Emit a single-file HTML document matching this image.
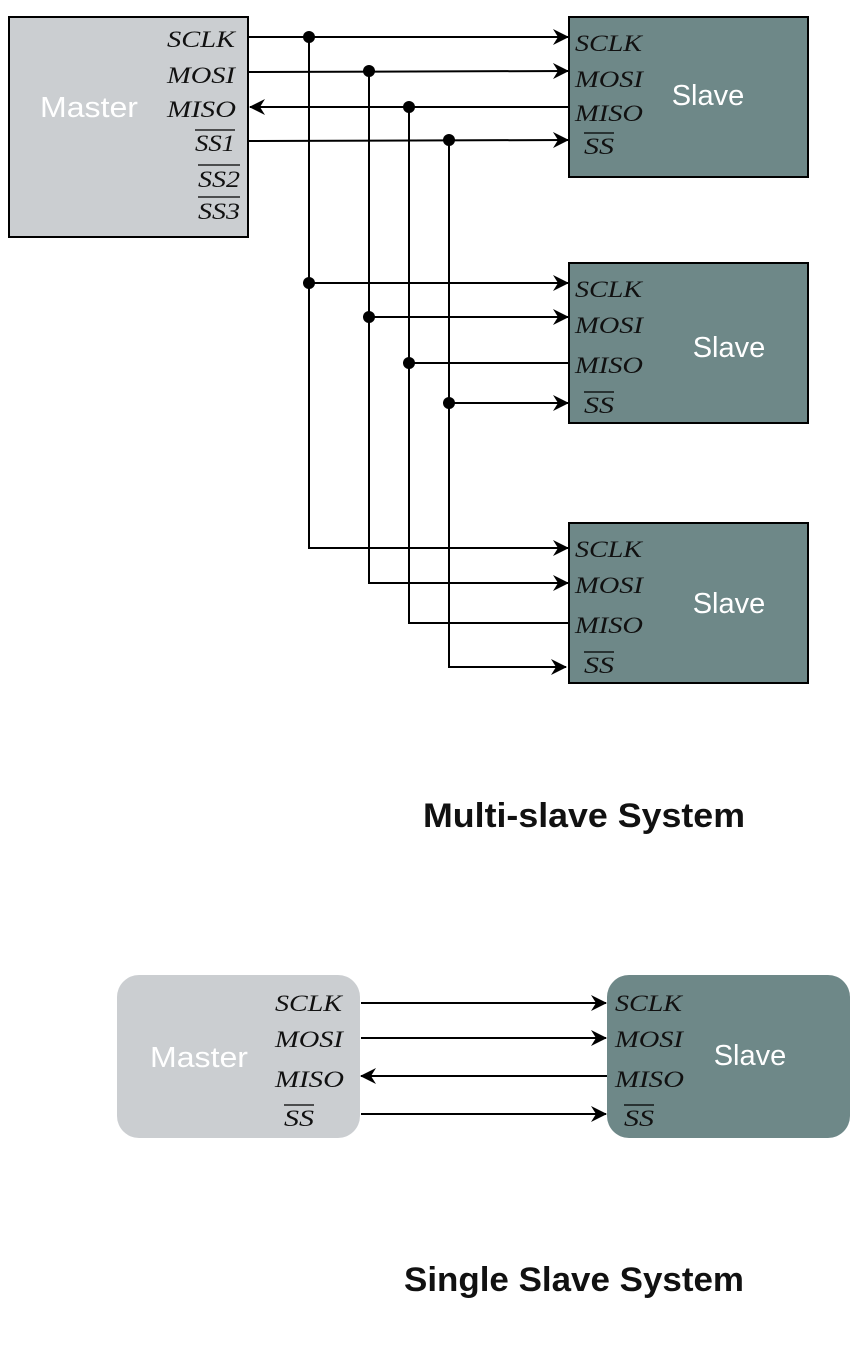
<!DOCTYPE html>
<html><head><style>
html,body{margin:0;padding:0;background:#fff;}
svg{display:block;}
.l{font-family:"Liberation Serif",serif;font-style:italic;font-size:23px;fill:#111;}
.w{font-family:"Liberation Sans",sans-serif;font-size:29px;fill:#fff;}
.t{font-family:"Liberation Sans",sans-serif;font-size:34px;font-weight:bold;fill:#111;}
</style></head><body>
<svg width="860" height="1360" viewBox="0 0 860 1360" xmlns="http://www.w3.org/2000/svg">
<defs>
<marker id="a" viewBox="0 0 16 16" refX="15" refY="8" markerWidth="16" markerHeight="16" markerUnits="userSpaceOnUse" orient="auto">
<path d="M0,0 L16,8 L0,16 L5,8 Z" fill="#000"/></marker>
</defs>
<rect x="9" y="17" width="239" height="220" fill="#cbced1" stroke="#000" stroke-width="2"/>
<rect x="569" y="17" width="239" height="160" fill="#6e8888" stroke="#000" stroke-width="2"/>
<rect x="569" y="263" width="239" height="160" fill="#6e8888" stroke="#000" stroke-width="2"/>
<rect x="569" y="523" width="239" height="160" fill="#6e8888" stroke="#000" stroke-width="2"/>
<g stroke="#000" stroke-width="2" fill="none">
<line x1="249" y1="37" x2="568" y2="37" marker-end="url(#a)"/>
<line x1="249" y1="72" x2="568" y2="71" marker-end="url(#a)"/>
<line x1="569" y1="107" x2="250" y2="107" marker-end="url(#a)"/>
<line x1="249" y1="141" x2="568" y2="140" marker-end="url(#a)"/>
<polyline points="309,37 309,548 568,548" marker-end="url(#a)"/>
<polyline points="369,71 369,583 568,583" marker-end="url(#a)"/>
<polyline points="409,107 409,623 569,623"/>
<polyline points="449,140 449,667 566,667" marker-end="url(#a)"/>
<line x1="309" y1="283" x2="568" y2="283" marker-end="url(#a)"/>
<line x1="369" y1="317" x2="568" y2="317" marker-end="url(#a)"/>
<line x1="409" y1="363" x2="569" y2="363"/>
<line x1="449" y1="403" x2="568" y2="403" marker-end="url(#a)"/>
</g>
<g fill="#000">
<circle cx="309" cy="37" r="6"/><circle cx="369" cy="71" r="6"/><circle cx="409" cy="107" r="6"/><circle cx="449" cy="140" r="6"/>
<circle cx="309" cy="283" r="6"/><circle cx="369" cy="317" r="6"/><circle cx="409" cy="363" r="6"/><circle cx="449" cy="403" r="6"/>
</g>
<g class="l">
<text x="167" y="47" textLength="68" lengthAdjust="spacingAndGlyphs">SCLK</text>
<text x="167" y="83" textLength="68" lengthAdjust="spacingAndGlyphs">MOSI</text>
<text x="167" y="117" textLength="69" lengthAdjust="spacingAndGlyphs">MISO</text>
<text x="195" y="151" textLength="40" lengthAdjust="spacingAndGlyphs">SS1</text>
<text x="198" y="187" textLength="42" lengthAdjust="spacingAndGlyphs">SS2</text>
<text x="198" y="219" textLength="42" lengthAdjust="spacingAndGlyphs">SS3</text>
</g>
<g stroke="#000" stroke-width="1.2">
<line x1="195" y1="130" x2="235" y2="130"/>
<line x1="198" y1="165" x2="240" y2="165"/>
<line x1="198" y1="197" x2="240" y2="197"/>
</g>
<text class="w" x="40" y="117" textLength="98" lengthAdjust="spacingAndGlyphs">Master</text>
<g class="l">
<text x="575" y="51" textLength="67" lengthAdjust="spacingAndGlyphs">SCLK</text><text x="575" y="87" textLength="68" lengthAdjust="spacingAndGlyphs">MOSI</text><text x="575" y="121" textLength="68" lengthAdjust="spacingAndGlyphs">MISO</text><text x="584" y="154" textLength="30" lengthAdjust="spacingAndGlyphs">SS</text>
<text x="575" y="297" textLength="67" lengthAdjust="spacingAndGlyphs">SCLK</text><text x="575" y="333" textLength="68" lengthAdjust="spacingAndGlyphs">MOSI</text><text x="575" y="373" textLength="68" lengthAdjust="spacingAndGlyphs">MISO</text><text x="584" y="413" textLength="30" lengthAdjust="spacingAndGlyphs">SS</text>
<text x="575" y="557" textLength="67" lengthAdjust="spacingAndGlyphs">SCLK</text><text x="575" y="593" textLength="68" lengthAdjust="spacingAndGlyphs">MOSI</text><text x="575" y="633" textLength="68" lengthAdjust="spacingAndGlyphs">MISO</text><text x="584" y="673" textLength="30" lengthAdjust="spacingAndGlyphs">SS</text>
</g>
<g stroke="#000" stroke-width="1.2">
<line x1="584" y1="133" x2="614" y2="133"/>
<line x1="584" y1="392" x2="614" y2="392"/>
<line x1="584" y1="652" x2="614" y2="652"/>
</g>
<text class="w" x="708" y="105" text-anchor="middle">Slave</text>
<text class="w" x="729" y="357" text-anchor="middle">Slave</text>
<text class="w" x="729" y="613" text-anchor="middle">Slave</text>
<text class="t" x="584" y="827" text-anchor="middle" textLength="322" lengthAdjust="spacingAndGlyphs">Multi-slave System</text>
<rect x="117" y="975" width="243" height="163" rx="22" fill="#cbced1"/>
<rect x="607" y="975" width="243" height="163" rx="22" fill="#6e8888"/>
<g stroke="#000" stroke-width="2" fill="none">
<line x1="361" y1="1003" x2="606" y2="1003" marker-end="url(#a)"/>
<line x1="361" y1="1038" x2="606" y2="1038" marker-end="url(#a)"/>
<line x1="607" y1="1076" x2="361" y2="1076" marker-end="url(#a)"/>
<line x1="361" y1="1114" x2="606" y2="1114" marker-end="url(#a)"/>
</g>
<g class="l">
<text x="275" y="1011" textLength="67" lengthAdjust="spacingAndGlyphs">SCLK</text>
<text x="275" y="1047" textLength="68" lengthAdjust="spacingAndGlyphs">MOSI</text>
<text x="275" y="1087" textLength="69" lengthAdjust="spacingAndGlyphs">MISO</text>
<text x="284" y="1126" textLength="30" lengthAdjust="spacingAndGlyphs">SS</text>
<text x="615" y="1011" textLength="67" lengthAdjust="spacingAndGlyphs">SCLK</text>
<text x="615" y="1047" textLength="68" lengthAdjust="spacingAndGlyphs">MOSI</text>
<text x="615" y="1087" textLength="69" lengthAdjust="spacingAndGlyphs">MISO</text>
<text x="624" y="1126" textLength="30" lengthAdjust="spacingAndGlyphs">SS</text>
</g>
<g stroke="#000" stroke-width="1.2">
<line x1="284" y1="1105" x2="314" y2="1105"/>
<line x1="624" y1="1105" x2="654" y2="1105"/>
</g>
<text class="w" x="150" y="1067" textLength="98" lengthAdjust="spacingAndGlyphs">Master</text>
<text class="w" x="750" y="1065" text-anchor="middle">Slave</text>
<text class="t" x="574" y="1291" text-anchor="middle" textLength="340" lengthAdjust="spacingAndGlyphs">Single Slave System</text>
</svg>
</body></html>
